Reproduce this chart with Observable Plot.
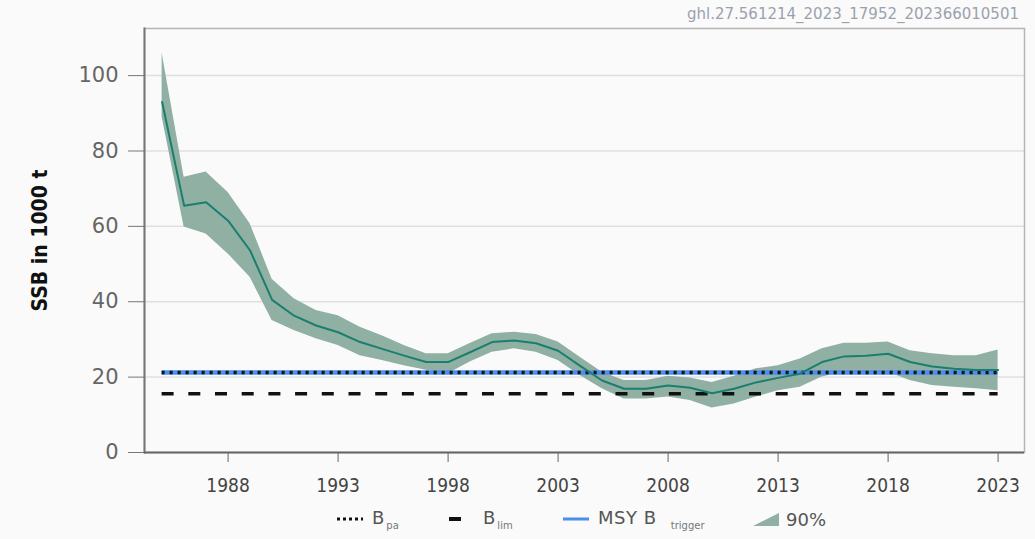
<!DOCTYPE html>
<html><head><meta charset="utf-8">
<script src="https://cdn.jsdelivr.net/npm/d3@7"></script>
<script src="https://cdn.jsdelivr.net/npm/@observablehq/plot@0.6"></script>
<style>
body{margin:0;background:#fafafa;font-family:"DejaVu Sans",sans-serif;}
#wrap{position:relative;width:1035px;height:539px;overflow:hidden;}
#cap{position:absolute;top:5px;right:16px;font-size:15px;color:#9aa2ad;white-space:nowrap;}
#legend{position:absolute;top:504px;left:0;width:1035px;height:30px;font-size:18px;color:#555;}
.li{position:absolute;top:0;display:flex;align-items:center;height:30px;white-space:nowrap;}
.li sub{font-size:10px;vertical-align:-5px;margin-left:2px;color:#777;}
</style></head>
<body>
<div id="wrap">
<div id="chart"></div>
<div id="cap">ghl.27.561214_2023_17952_202366010501</div>
<div id="legend">
  <div class="li" style="left:336px"><svg width="28" height="10"><line x1="1" x2="27" y1="5" y2="5" stroke="#111" stroke-width="3" stroke-dasharray="3,3"/></svg><span style="margin-left:8px">B<sub>pa</sub></span></div>
  <div class="li" style="left:447px"><svg width="16" height="10"><line x1="2" x2="14" y1="5" y2="5" stroke="#111" stroke-width="4"/></svg><span style="margin-left:20px">B<sub>lim</sub></span></div>
  <div class="li" style="left:562px"><svg width="28" height="10"><line x1="1" x2="27" y1="5" y2="5" stroke="#4a8ef0" stroke-width="3"/></svg><span style="margin-left:8px;letter-spacing:0.5px">MSY B <sub style="margin-left:8px;letter-spacing:0">trigger</sub></span></div>
  <div class="li" style="left:752px"><svg width="28" height="16"><polygon points="1,15 27,15 27,2" fill="#8fb0a3"/></svg><span style="margin-left:6px">90%</span></div>
</div>
</div>
<script>
const years = [1985,1986,1987,1988,1989,1990,1991,1992,1993,1994,1995,1996,1997,1998,1999,2000,2001,2002,2003,2004,2005,2006,2007,2008,2009,2010,2011,2012,2013,2014,2015,2016,2017,2018,2019,2020,2021,2022,2023];
const ssb  = [93,65.5,66.4,61.5,53.6,40.5,36.3,33.7,31.9,29.3,27.5,25.7,24,24,26.6,29.3,29.7,29,27,23,19.1,16.9,16.9,17.8,17.2,15.7,16.9,18.6,19.8,20.9,24,25.5,25.7,26.2,24,22.8,22.2,21.9,21.9];
const high = [106,73,74.4,69,60.7,46,40.8,37.7,36.3,33.2,31,28.4,26.2,26.2,28.9,31.5,31.9,31.3,29.3,25.3,21.3,19.1,19.1,20.2,19.8,18.6,20.2,22.2,23,24.8,27.5,29,29,29.3,27,26.2,25.7,25.7,27.2];
const low  = [89,59.8,58,52.7,46.5,35,32.4,30.2,28.4,25.7,24.4,23,21.8,20.9,24,26.6,27.5,26.6,24.4,20.4,16.9,14.2,14.2,14.7,13.8,11.8,12.9,14.7,16.4,17.3,20,21.3,21.3,21.3,19.1,17.8,17.3,16.9,16.4];
const bpa = 21.2;
const msyBtrigger = 21.2;
const blim = 15.6;
const yTicks = [0,20,40,60,80,100];
const xTicks = [1988,1993,1998,2003,2008,2013,2018,2023];
const yLabel = "SSB in 1000 t";

const data = years.map((y,i)=>({year:y, ssb:ssb[i], low:low[i], high:high[i]}));
const x1 = years[0], x2 = years[years.length-1];

const chart = Plot.plot({
  width:1035, height:500,
  marginLeft:144, marginRight:11, marginTop:28, marginBottom:48,
  style:{background:"transparent", fontFamily:"DejaVu Sans"},
  x:{domain:[1984.2,2024.2]},
  y:{domain:[0,112.5]},
  marks:[
    Plot.gridY(yTicks.slice(1),{stroke:"#e0e0e0", strokeOpacity:1, strokeWidth:1.5}),
    Plot.frame({stroke:"#b5b5b5", strokeWidth:1.5}),
    Plot.areaY(data,{x:"year", y1:"low", y2:"high", fill:"#8fb0a3", fillOpacity:1}),
    Plot.ruleY([msyBtrigger],{x1, x2, stroke:"#4a8ef0", strokeWidth:4.5}),
    Plot.ruleY([bpa],{x1, x2, stroke:"#111", strokeWidth:3.5, strokeDasharray:"3,5"}),
    Plot.ruleY([blim],{x1, x2, stroke:"#111", strokeWidth:3.5, strokeDasharray:"12,14.7"}),
    Plot.lineY(data,{x:"year", y:"ssb", stroke:"#1a7f6e", strokeWidth:2}),
    Plot.axisY({ticks:yTicks, tickSize:16, tickPadding:10, fontSize:21, color:"#666", stroke:"#777", label:null}),
    Plot.axisX({ticks:xTicks, tickFormat:d=>String(d), tickSize:10, tickPadding:16, fontSize:19, color:"#444", stroke:"#666", label:null, fontFamily:"DejaVu Sans Condensed"}),
    Plot.frame({anchor:"left", stroke:"#777", strokeWidth:2}),
    Plot.ruleY([0],{stroke:"#666", strokeWidth:2}),
    Plot.text([yLabel],{frameAnchor:"left", dx:-104, rotate:-90, textAnchor:"middle", text:d=>d, fontSize:21, fontWeight:"bold", fill:"#111", fontFamily:"DejaVu Sans Condensed"})
  ]
});
document.getElementById("chart").appendChild(chart);
</script>
</body></html>
